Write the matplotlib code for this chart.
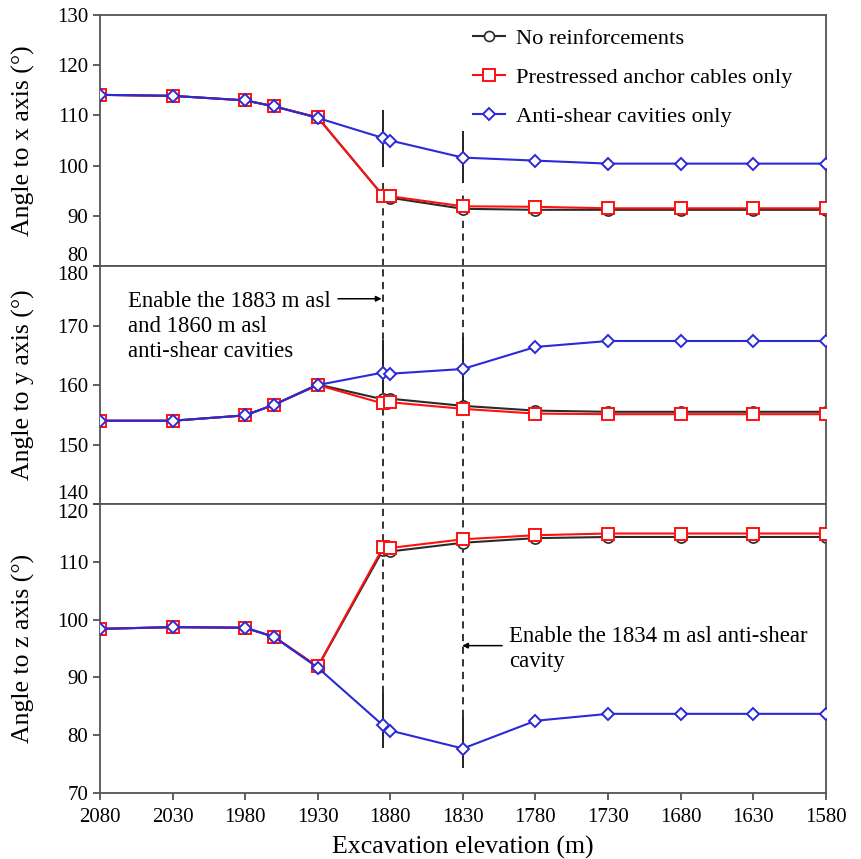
import matplotlib
matplotlib.use("Agg")
import matplotlib.pyplot as plt

plt.rcParams['font.family'] = ['Liberation Serif', 'DejaVu Serif']
plt.rcParams['mathtext.fontset'] = 'stix'

# excavation elevations (m)
elev = [2080, 2030, 1980, 1960, 1930, 1885, 1880, 1830, 1780, 1730, 1680, 1630, 1580]

# angle to x axis
no_x = [114.1, 113.9, 113.0, 111.8, 109.6, 94.0, 93.6, 91.4, 91.2, 91.2, 91.2, 91.2, 91.2]
pre_x = [114.1, 113.9, 113.0, 111.8, 109.6, 94.0, 93.9, 91.9, 91.8, 91.5, 91.5, 91.5, 91.5]
anti_x = [114.1, 113.9, 113.0, 111.8, 109.5, 105.5, 105.0, 101.6, 101.0, 100.4, 100.4, 100.4, 100.4]

# angle to y axis
no_y = [154.0, 154.0, 154.9, 156.7, 160.1, 157.6, 157.7, 156.5, 155.7, 155.5, 155.5, 155.5, 155.5]
pre_y = [154.0, 154.0, 154.9, 156.7, 160.0, 156.9, 157.1, 156.0, 155.2, 155.1, 155.1, 155.1, 155.1]
anti_y = [154.0, 154.0, 154.9, 156.7, 160.0, 162.1, 161.9, 162.7, 166.4, 167.4, 167.4, 167.4, 167.4]

# angle to z axis
no_z = [98.4, 98.7, 98.6, 97.0, 91.8, 112.1, 111.8, 113.3, 114.1, 114.3, 114.3, 114.3, 114.3]
pre_z = [98.4, 98.7, 98.6, 97.0, 91.9, 112.5, 112.4, 113.9, 114.6, 114.9, 114.9, 114.9, 114.9]
anti_z = [98.4, 98.7, 98.6, 97.0, 91.7, 81.7, 80.8, 77.7, 82.5, 83.7, 83.7, 83.7, 83.7]

labels = ['No reinforcements', 'Prestressed anchor cables only', 'Anti-shear cavities only']
xticks = [2080, 2030, 1980, 1930, 1880, 1830, 1780, 1730, 1680, 1630, 1580]
ylabels = ['Angle to x axis (°)', 'Angle to y axis (°)', 'Angle to z axis (°)']
ylims = [(80, 130), (140, 180), (70, 120)]
yticks = [range(80, 131, 10), range(140, 181, 10), range(70, 121, 10)]

# enable lines: x, solid segment, dashed extent per panel
enable_x = [1885, 1830]
solid_seg = [
    [(99.8, 111.1), (96.5, 106.8)],
    [(158.7, 167.6), (157.0, 168.0)],
    [(77.8, 87.3), (74.4, 83.2)],
]
dash_seg = [
    [(80, 97.2), (80, 95.2)],
    [(140, 180), (140, 180)],
    [(87.3, 120), (83.2, 120)],
]

fig, axes = plt.subplots(3, 1, figsize=(8.62, 8.59), dpi=100, sharex=True,
                         gridspec_kw={'height_ratios': [251, 238, 289], 'hspace': 0})
fig.subplots_adjust(left=0.116, right=0.958, top=0.9825, bottom=0.0768)

series = [(no_x, pre_x, anti_x), (no_y, pre_y, anti_y), (no_z, pre_z, anti_z)]
black = '#2a2a2a'
red = '#ff1010'
blue = '#2a2ad8'

for i, ax in enumerate(axes):
    no, pre, anti = series[i]
    for k, xe in enumerate(enable_x):
        d0, d1 = dash_seg[i][k]
        ax.vlines(xe, d0, d1, colors='#222222', linestyles=(0, (4, 3)), lw=1.3, zorder=1)
        s0, s1 = solid_seg[i][k]
        ax.vlines(xe, s0, s1, colors='#222222', lw=1.4, zorder=1)
    ax.plot(elev, no, '-o', color=black, mfc='white', mec=black, ms=8, lw=1.5,
            mew=1.2, label=labels[0], zorder=2)
    ax.plot(elev, pre, '-s', color=red, mfc='white', mec=red, ms=9, lw=1.5,
            mew=1.4, label=labels[1], zorder=3)
    ax.plot(elev, anti, '-D', color=blue, mfc='white', mec=blue, ms=6.5, lw=1.5,
            mew=1.4, label=labels[2], zorder=4)

    ax.set_ylim(*ylims[i])
    ax.set_yticks(list(yticks[i]))
    ax.set_ylabel(ylabels[i], fontsize=18.5)
    ax.yaxis.set_label_coords(-0.09, 0.5)
    ax.tick_params(axis='y', direction='out', length=5, width=1.2, labelsize=15,
                   color='#444444')
    ax.tick_params(axis='x', bottom=False, labelbottom=False)
    for sp in ax.spines.values():
        sp.set_color('#555555')
        sp.set_linewidth(1.3)

# shift edge tick labels inward
t = axes[0].yaxis.get_major_ticks()
t[0].label1.set_verticalalignment('bottom')
t = axes[1].yaxis.get_major_ticks()
t[0].label1.set_verticalalignment('bottom')
t[-1].label1.set_verticalalignment('top')
t = axes[2].yaxis.get_major_ticks()
t[-1].label1.set_verticalalignment('top')

ax = axes[2]
ax.set_xlim(2080, 1580)
ax.set_xticks(xticks)
ax.tick_params(axis='x', bottom=True, labelbottom=True, direction='out', length=5,
               width=1.2, labelsize=15, color='#444444', pad=6)
ax.set_xlabel('Excavation elevation (m)', fontsize=18.6, labelpad=6)

axes[0].legend(loc='upper left', bbox_to_anchor=(0.514, 0.949), frameon=False,
               fontsize=16.2, handlelength=1.4, handletextpad=0.5, labelspacing=0.81,
               markerscale=0.9, borderpad=0, borderaxespad=0)

# annotations
axes[1].text(2061, 169.8, 'Enable the 1883 m asl\nand 1860 m asl\nanti-shear cavities',
             fontsize=16.4, ha='left', va='center', linespacing=1.25)
axes[1].annotate('', xy=(1886, 174.5), xytext=(1916, 174.5),
                 arrowprops=dict(arrowstyle='-|>', color='black', lw=1.1,
                                 mutation_scale=8, shrinkA=0, shrinkB=0))
axes[2].text(1798, 95.0, 'Enable the 1834 m asl anti-shear\ncavity',
             fontsize=16.4, ha='left', va='center', linespacing=1.25)
axes[2].annotate('', xy=(1830.5, 95.5), xytext=(1803, 95.5),
                 arrowprops=dict(arrowstyle='-|>', color='black', lw=1.1,
                                 mutation_scale=8, shrinkA=0, shrinkB=0))

plt.savefig('out.png', dpi=100)
